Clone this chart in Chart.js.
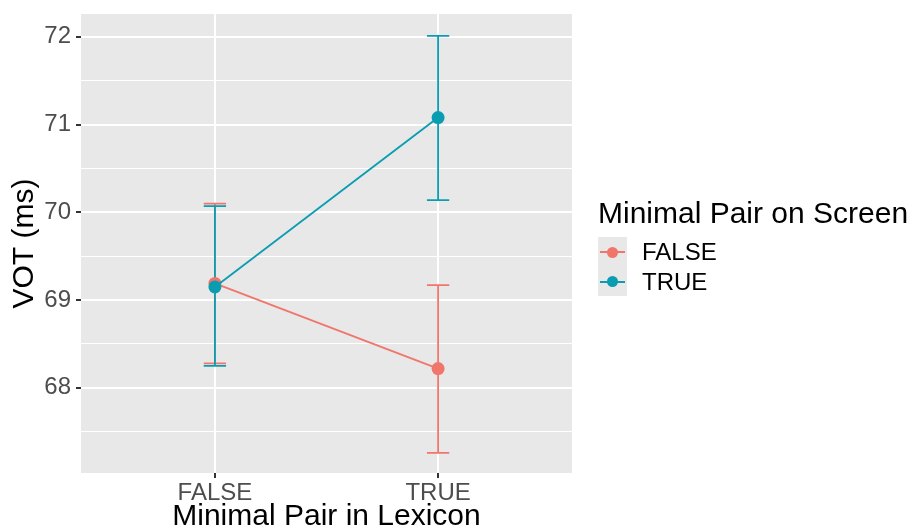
<!DOCTYPE html>
<html>
<head>
<meta charset="utf-8">
<script src="https://cdn.jsdelivr.net/npm/chart.js@4/dist/chart.umd.min.js"></script>
<style>
  body { margin: 0; background: #fff; font-family: "Liberation Sans", Arial, sans-serif; }
  #wrap { position: relative; width: 912px; height: 532px; }
  #leyenda { position: absolute; left: 598px; top: 198px; color: #000; }
  #leyenda .titulo { font-size: 30px; line-height: 30px; height: 30px; margin-bottom: 9px; white-space: nowrap; }
  #leyenda .item { display: flex; align-items: center; height: 29.5px; font-size: 24px; line-height: 29.5px; }
  #leyenda .clave { width: 29px; height: 29.5px; background: #e8e8e8; position: relative; margin-right: 15px; }
  #leyenda .clave span.l { position: absolute; left: 2px; right: 2px; top: 14px; height: 2px; }
  #leyenda .clave span.p { position: absolute; left: 9px; top: 9.5px; width: 11px; height: 11px; border-radius: 50%; }
</style>
</head>
<body>
<div id="wrap">
  <canvas id="grafico" width="912" height="532"></canvas>
  <div id="leyenda">
    <div class="titulo">Minimal Pair on Screen</div>
    <div class="item"><div class="clave"><span class="l" style="background:#f0766b"></span><span class="p" style="background:#f0766b"></span></div>FALSE</div>
    <div class="item"><div class="clave"><span class="l" style="background:#0a9db2"></span><span class="p" style="background:#0a9db2"></span></div>TRUE</div>
  </div>
</div>
<script>
// datos
const categorias = ['FALSE', 'TRUE'];
const series = ['FALSE', 'TRUE'];
const medias_false = [69.19, 68.22];
const inferior_false = [68.28, 67.26];
const superior_false = [70.10, 69.17];
const medias_true = [69.15, 71.08];
const inferior_true = [68.25, 70.14];
const superior_true = [70.07, 72.01];
const ticks_y = [68, 69, 70, 71, 72];

const colores = ['#f0766b', '#0a9db2'];
const barras = [
    { inf: inferior_false, sup: superior_false },
    { inf: inferior_true, sup: superior_true }
];

// fondo gris del panel
const fondoPanel = {
    id: 'fondoPanel',
    beforeDraw(chart) {
        const a = chart.chartArea;
        const ctx = chart.ctx;
        ctx.save();
        ctx.fillStyle = '#e8e8e8';
        ctx.fillRect(a.left, a.top, a.right - a.left, a.bottom - a.top);
        ctx.restore();
    }
};

// barras de error, dibujadas antes de las lineas
const barrasError = {
    id: 'barrasError',
    beforeDatasetsDraw(chart) {
        const ctx = chart.ctx;
        const x = chart.scales.x;
        const y = chart.scales.y;
        ctx.save();
        ctx.lineWidth = 1.8;
        for (let s = 0; s < barras.length; s++) {
            ctx.strokeStyle = colores[s];
            for (let i = 0; i < categorias.length; i++) {
                const px = x.getPixelForValue(i + 1);
                const w = x.getPixelForValue(i + 1.05) - px;
                const y1 = y.getPixelForValue(barras[s].inf[i]);
                const y2 = y.getPixelForValue(barras[s].sup[i]);
                ctx.beginPath();
                ctx.moveTo(px, y1); ctx.lineTo(px, y2);
                ctx.moveTo(px - w, y1); ctx.lineTo(px + w, y1);
                ctx.moveTo(px - w, y2); ctx.lineTo(px + w, y2);
                ctx.stroke();
            }
        }
        ctx.restore();
    }
};

function puntos(medias) {
    return medias.map((v, i) => ({ x: i + 1, y: v }));
}

const ctx = document.getElementById('grafico').getContext('2d');
const chart = new Chart(ctx, {
    type: 'line',
    data: {
        datasets: [
            { label: series[0], data: puntos(medias_false), borderColor: colores[0], backgroundColor: colores[0],
              borderWidth: 1.8, pointRadius: 6.5, pointBorderWidth: 0, order: 2 },
            { label: series[1], data: puntos(medias_true), borderColor: colores[1], backgroundColor: colores[1],
              borderWidth: 1.8, pointRadius: 6.5, pointBorderWidth: 0, order: 1 }
        ]
    },
    options: {
        responsive: false,
        animation: false,
        layout: { padding: { top: 14, right: 340, left: 0, bottom: 0 } },
        plugins: { legend: { display: false }, tooltip: { enabled: false } },
        scales: {
            x: {
                type: 'linear',
                min: 0.4,
                max: 2.6,
                afterBuildTicks: (s) => { s.ticks = categorias.map((c, i) => ({ value: i + 1 })); },
                afterFit: (s) => { s.height = 59; },
                ticks: {
                    callback: (v) => categorias[Math.round(v) - 1],
                    color: '#4d4d4d',
                    font: { family: 'Liberation Sans', size: 24 },
                    padding: 1,
                    maxRotation: 0
                },
                grid: { color: '#ffffff', lineWidth: 2, tickLength: 5, tickColor: '#333333' },
                border: { display: false },
                title: {
                    display: true,
                    text: 'Minimal Pair in Lexicon',
                    color: '#000',
                    font: { family: 'Liberation Sans', size: 30, lineHeight: 1.0 },
                    padding: { top: 0, bottom: 0 }
                }
            },
            y: {
                min: 67.03,
                max: 72.26,
                afterBuildTicks: (s) => {
                    const t = [];
                    for (let i = 0; i < ticks_y.length; i++) {
                        t.push({ value: ticks_y[i] - 0.5 });
                        t.push({ value: ticks_y[i] });
                    }
                    s.ticks = t;
                },
                afterFit: (s) => { s.width = 81; s.paddingTop = 0; s.paddingBottom = 0; },
                ticks: {
                    autoSkip: false,
                    callback: (v) => ticks_y.includes(v) ? String(v) : '',
                    color: '#4d4d4d',
                    font: { family: 'Liberation Sans', size: 24 },
                    padding: 5
                },
                grid: {
                    color: '#ffffff',
                    lineWidth: (c) => ticks_y.includes(c.tick.value) ? 2 : 1,
                    tickLength: 5,
                    tickColor: (c) => ticks_y.includes(c.tick.value) ? '#333333' : 'rgba(0,0,0,0)'
                },
                border: { display: false },
                title: {
                    display: true,
                    text: 'VOT (ms)',
                    color: '#000',
                    font: { family: 'Liberation Sans', size: 30, lineHeight: 1.0 },
                    padding: { top: 10, bottom: 0 }
                }
            }
        }
    },
    plugins: [fondoPanel, barrasError]
});
</script>
</body>
</html>
